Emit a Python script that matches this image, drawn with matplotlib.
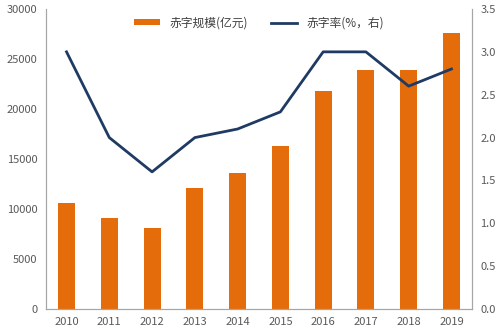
import matplotlib.pyplot as plt
import numpy as np

plt.rcParams['font.family'] = ['Noto Sans CJK SC', 'DejaVu Sans']

years = ['2010', '2011', '2012', '2013', '2014', '2015', '2016', '2017', '2018', '2019']
deficit = [10600, 9100, 8100, 12100, 13600, 16300, 21800, 23900, 23900, 27600]
deficit_rate = [3.0, 2.0, 1.6, 2.0, 2.1, 2.3, 3.0, 3.0, 2.6, 2.8]

bar_color = '#E46C0A'
line_color = '#1F3B64'
grey = '#595959'

fig = plt.figure(figsize=(5, 3.33), dpi=100)
ax = fig.add_axes([0.092, 0.072, 0.852, 0.901])
x = np.arange(len(years))
bars = ax.bar(x, deficit, width=0.4, color=bar_color, label='赤字规模(亿元)')
ax.set_ylim(0, 30000)
ax.set_yticks(range(0, 30001, 5000))
ax.set_xlim(-0.48, len(years) - 0.52)
ax.set_xticks(x)
ax.set_xticklabels(years)

ax2 = ax.twinx()
line, = ax2.plot(x, deficit_rate, color=line_color, linewidth=2, label='赤字率(%，右)')
ax2.set_ylim(0, 3.5)
ax2.set_yticks(np.arange(0, 3.51, 0.5))
ax2.yaxis.set_major_formatter(plt.FormatStrFormatter('%.1f'))

for a in (ax, ax2):
    a.spines['top'].set_visible(False)
    for s in ('left', 'right', 'bottom'):
        a.spines[s].set_color('#A6A6A6')
    a.tick_params(length=0, labelsize=8, colors=grey, pad=6)

ax.legend([bars, line], ['赤字规模(亿元)', '赤字率(%，右)'], loc='upper center',
          bbox_to_anchor=(0.5, 1.01), ncol=2, frameon=False, fontsize=8.5,
          handlelength=2.2, handleheight=0.4, columnspacing=2, labelcolor='#404040')

fig.savefig('out.png', dpi=100)
